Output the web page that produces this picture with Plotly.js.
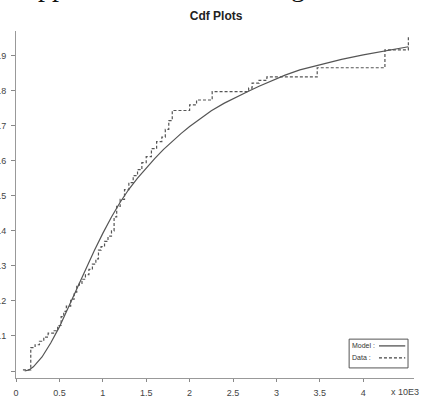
<!DOCTYPE html>
<html>
<head>
<meta charset="utf-8">
<script src="https://cdn.plot.ly/plotly-3.0.1.min.js"></script>
<style>html,body{margin:0;padding:0;background:#fff;}#chart{width:422px;height:399px;}</style>
</head>
<body>
<div id="chart"></div>
<script>
// Model CDF (x in units of 10^3)
const modelX = [0.10,0.15,0.20,0.30,0.40,0.50,0.60,0.70,0.80,0.90,1.00,1.10,1.20,1.30,1.40,1.50,1.60,1.70,1.80,1.90,2.00,2.10,2.25,2.40,2.50,2.66,2.80,2.96,3.10,3.27,3.48,3.75,4.00,4.25,4.52];
const modelY = [0.000,0.003,0.012,0.040,0.080,0.126,0.180,0.236,0.290,0.343,0.393,0.440,0.482,0.519,0.551,0.580,0.607,0.633,0.656,0.678,0.698,0.716,0.743,0.765,0.778,0.797,0.813,0.831,0.845,0.860,0.874,0.890,0.903,0.915,0.926];
// Empirical (data) CDF, step points
const dataX = [0.08,0.17,0.22,0.27,0.32,0.37,0.44,0.48,0.52,0.55,0.58,0.63,0.67,0.70,0.73,0.76,0.80,0.84,0.88,0.92,0.95,0.98,1.02,1.06,1.10,1.13,1.16,1.20,1.25,1.30,1.35,1.40,1.45,1.50,1.56,1.62,1.68,1.72,1.76,1.80,2.00,2.08,2.26,2.68,2.72,2.80,2.89,3.47,4.25,4.52];
const dataY = [0.003,0.067,0.075,0.085,0.097,0.108,0.115,0.130,0.155,0.170,0.185,0.205,0.225,0.245,0.250,0.262,0.275,0.290,0.305,0.320,0.345,0.355,0.370,0.385,0.400,0.440,0.470,0.490,0.518,0.538,0.558,0.575,0.595,0.612,0.635,0.655,0.668,0.690,0.715,0.744,0.760,0.774,0.798,0.808,0.822,0.830,0.840,0.866,0.917,0.955];
const xTickVals = [0,0.5,1,1.5,2,2.5,3,3.5,4];
const xTickText = ['0','0.5','1','1.5','2','2.5','3','3.5','4'];
const yTickVals = [0,0.1,0.2,0.3,0.4,0.5,0.6,0.7,0.8,0.9];
const yTickText = ['','.1','.2','.3','.4','.5','.6','.7','.8','.9'];
const legendNames = ['Model :','Data :'];

const traces = [
  {x: modelX, y: modelY, mode:'lines', line:{color:'#555', width:1.2}, name: legendNames[0], showlegend:false},
  {x: dataX, y: dataY, mode:'lines', line:{color:'#555', width:1.2, dash:'3px,2px', shape:'hv'}, name: legendNames[1], showlegend:false}
];

const tickFont = {family:'Liberation Sans, Arial, sans-serif', size:9, color:'#444'};
const legFont = {family:'Liberation Sans, Arial, sans-serif', size:7, color:'#333'};
const layout = {
  width:422, height:399,
  margin:{l:16, r:8, t:31, b:21, pad:0},
  paper_bgcolor:'#fff', plot_bgcolor:'#fff',
  showlegend:false,
  title:{text:'<b>Cdf Plots</b>', font:{family:'Liberation Sans, Arial, sans-serif', size:12, color:'#222'}, x:0.512, xanchor:'center', y:0.96, yanchor:'middle'},
  xaxis:{range:[0,4.585], tickvals:xTickVals, ticktext:xTickText, ticks:'outside', ticklen:3, tickcolor:'#888', showline:true, linecolor:'#999', linewidth:1, showgrid:false, zeroline:false, tickfont:tickFont, ticklabelstandoff:3, fixedrange:true},
  yaxis:{range:[-0.02,0.971], tickvals:yTickVals, ticktext:yTickText, ticks:'outside', ticklen:4, tickcolor:'#888', showline:true, linecolor:'#999', linewidth:1, showgrid:false, zeroline:false, tickfont:tickFont, ticklabelstandoff:3, fixedrange:true},
  shapes:[
    {type:'rect', xref:'paper', yref:'paper', x0:0.837, x1:0.985, y0:0.029, y1:0.112, line:{color:'#555', width:1}, fillcolor:'#fff'},
    {type:'line', xref:'paper', yref:'paper', x0:0.912, x1:0.978, y0:0.0925, y1:0.0925, line:{color:'#444', width:1.2}},
    {type:'line', xref:'paper', yref:'paper', x0:0.912, x1:0.978, y0:0.058, y1:0.058, line:{color:'#444', width:1.2, dash:'3px,2px'}}
  ],
  annotations:[
    {text:legendNames[0], xref:'paper', yref:'paper', x:0.840, y:0.0925, xanchor:'left', yanchor:'middle', showarrow:false, font:legFont},
    {text:legendNames[1], xref:'paper', yref:'paper', x:0.840, y:0.058, xanchor:'left', yanchor:'middle', showarrow:false, font:legFont},
    {text:'x 10E3', xref:'paper', yref:'paper', x:1.018, y:-0.04, xanchor:'right', yanchor:'middle', showarrow:false, font:tickFont},
    {text:'pp', xref:'paper', yref:'paper', x:0.05, y:1.078, xanchor:'left', yanchor:'bottom', showarrow:false, font:{family:'Liberation Serif, serif', size:28, color:'#111'}},
    {text:'g', xref:'paper', yref:'paper', x:0.687, y:1.078, xanchor:'left', yanchor:'bottom', showarrow:false, font:{family:'Liberation Serif, serif', size:28, color:'#111'}}
  ]
};
Plotly.newPlot('chart', traces, layout, {displayModeBar:false, staticPlot:true});
</script>
</body>
</html>
